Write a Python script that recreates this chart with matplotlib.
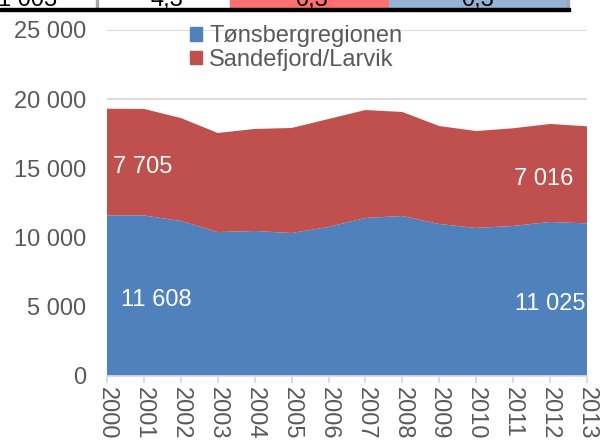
import matplotlib
matplotlib.use("Agg")
import matplotlib.pyplot as plt
from matplotlib.patches import Patch, Rectangle
import numpy as np

plt.rcParams['font.family'] = ['Liberation Sans', 'DejaVu Sans']

# data
years = list(range(2000, 2014))
tonsberg = [11608, 11600, 11200, 10400, 10480, 10330, 10770,
            11420, 11560, 10980, 10700, 10840, 11130, 11025]
sandefjord = [7705, 7700, 7440, 7160, 7370, 7590, 7800,
              7800, 7515, 7080, 7000, 7060, 7080, 7016]
series_names = ['Tønsbergregionen', 'Sandefjord/Larvik']

# cropped table row at the very top of the picture
table_texts = ['1 003', '4,3', '0,3', '0,3']

BLUE = '#4F81BD'
RED = '#C0504D'
GRID = '#D9D9D9'
TXT = '#595959'

W, H = 606, 443
fig = plt.figure(figsize=(W / 100, H / 100), dpi=100)

# ---- table fragment (top strip) ----
def fx(px):
    return px / W

def fy(py):
    return 1 - py / H

cells = [(0, 97, 'white'), (97, 230, 'white'), (230, 389, '#FF6F6F'), (389, 568, '#95B3D7')]
for x0, x1, c in cells:
    fig.patches.append(Rectangle((fx(x0), fy(8.5)), fx(x1 - x0), 8.5 / H,
                                 transform=fig.transFigure, color=c, zorder=1))
fig.patches.append(Rectangle((fx(96), fy(8.5)), fx(1.5), 8.5 / H,
                             transform=fig.transFigure, color='#A6A6A6', zorder=2))
fig.patches.append(Rectangle((fx(567), fy(8.5)), fx(1.5), 8.5 / H,
                             transform=fig.transFigure, color='#A6A6A6', zorder=2))
fig.patches.append(Rectangle((0, fy(10.5)), fx(570), 2.5 / H,
                             transform=fig.transFigure, color='black', zorder=3))
fig.text(fx(57), fy(6), table_texts[0], ha='right', va='baseline', fontsize=17, color='black')
for cx, t in zip([167, 312, 478], table_texts[1:]):
    fig.text(fx(cx), fy(6), t, ha='center', va='baseline', fontsize=17, color='black')

# ---- chart ----
ax = fig.add_axes([107 / W, (H - 376) / H, 480 / W, 346 / H])
ax.stackplot(years, tonsberg, sandefjord, colors=[BLUE, RED], labels=series_names,
             zorder=2, linewidth=0)

ax.set_xlim(years[0], years[-1])
ax.set_ylim(0, 25000)
ax.set_yticks(np.arange(0, 25001, 5000))
ax.set_yticklabels([f'{v:,}'.replace(',', ' ') for v in range(0, 25001, 5000)])
ax.set_xticks(years)
ax.set_xticklabels([str(y) for y in years], rotation=-90)

ax.grid(axis='y', color=GRID, linewidth=1.3, zorder=0)
ax.set_axisbelow(True)
for s in ['top', 'right', 'left']:
    ax.spines[s].set_visible(False)
ax.spines['bottom'].set_color(GRID)
ax.spines['bottom'].set_linewidth(1.3)
ax.spines['bottom'].set_zorder(3)
ax.tick_params(axis='y', length=0, pad=15, labelsize=17, labelcolor=TXT)
ax.tick_params(axis='x', length=5, width=1.3, color=GRID, pad=3, labelsize=17, labelcolor=TXT)

# data labels for first and last year (placed mid-area, nudged down a bit)
nudge = 330
first_tot = tonsberg[0] + sandefjord[0] / 2 - nudge
last_tot = tonsberg[-1] + sandefjord[-1] / 2 - nudge
lbl = dict(color='white', fontsize=17, ha='center', va='center', zorder=5)
ax.text(years[0] + 0.96, first_tot, f'{sandefjord[0]:,}'.replace(',', ' '), **lbl)
ax.text(years[0] + 1.34, tonsberg[0] / 2 - nudge, f'{tonsberg[0]:,}'.replace(',', ' '), **lbl)
ax.text(years[-1] - 1.18, last_tot, f'{sandefjord[-1]:,}'.replace(',', ' '), **lbl)
ax.text(years[-1] - 1.0, tonsberg[-1] / 2 - nudge, f'{tonsberg[-1]:,}'.replace(',', ' '), **lbl)

handles = [Patch(color=BLUE, label=series_names[0]), Patch(color=RED, label=series_names[1])]
leg = fig.legend(handles=handles, loc='upper left', bbox_to_anchor=(fx(181), fy(16)),
                 frameon=False, fontsize=17, handlelength=0.5, handleheight=0.5,
                 handletextpad=0.3, labelspacing=0.05, borderaxespad=0)
for t in leg.get_texts():
    t.set_color(TXT)

fig.savefig('out.png', dpi=100)
